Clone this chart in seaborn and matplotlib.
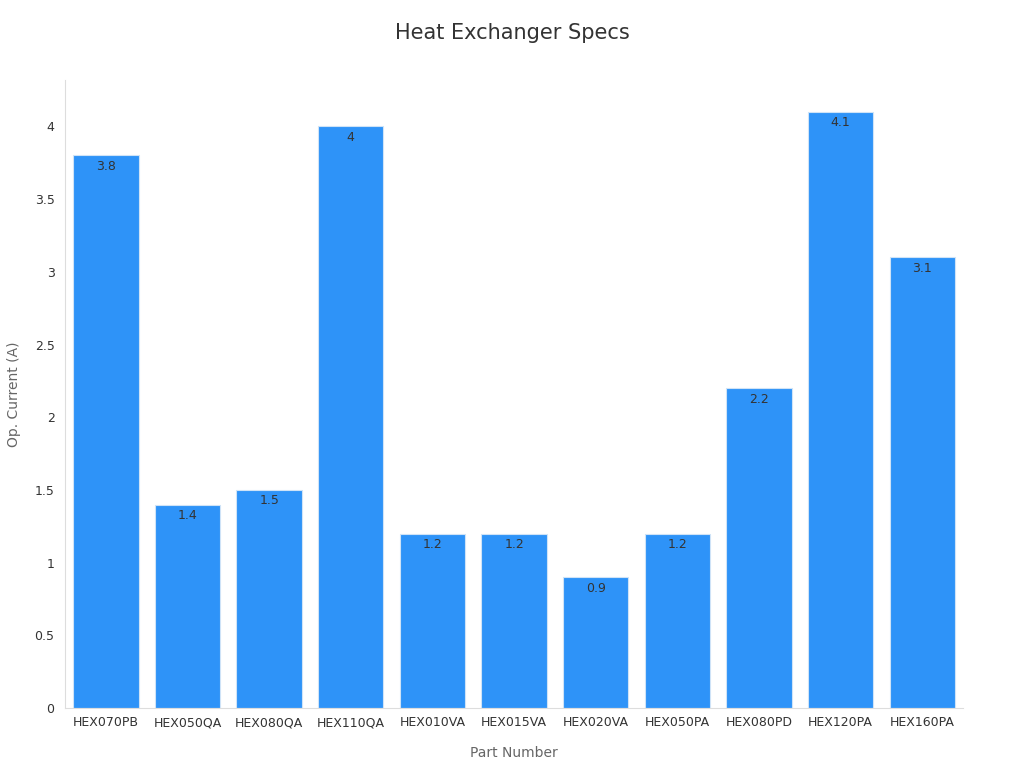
import matplotlib
matplotlib.use("Agg")
import matplotlib.pyplot as plt
from matplotlib.ticker import FuncFormatter, MultipleLocator
import seaborn as sns
import pandas as pd

parts = ["HEX070PB", "HEX050QA", "HEX080QA", "HEX110QA", "HEX010VA", "HEX015VA",
         "HEX020VA", "HEX050PA", "HEX080PD", "HEX120PA", "HEX160PA"]
current = [3.8, 1.4, 1.5, 4.0, 1.2, 1.2, 0.9, 1.2, 2.2, 4.1, 3.1]

sns.set_style("white")
plt.rcParams['font.family'] = ['DejaVu Sans']

df = pd.DataFrame({"part": parts, "current": current})

fig = plt.figure(figsize=(10.24, 7.68), dpi=100)
ax = fig.add_axes([0.0635, 0.078, 0.877, 0.818])
sns.barplot(data=df, x="part", y="current", color="#2E93F8", saturation=1,
            width=0.8, edgecolor="#cfe3f7", linewidth=0.8, ax=ax)

for p, v in zip(ax.patches, current):
    ax.text(p.get_x() + p.get_width() / 2, p.get_height() - 0.03, f"{v:g}",
            ha="center", va="top", fontsize=9, color="#333333")

ax.set_ylim(0, 4.32)
ax.set_xlim(-0.5, len(parts) - 0.5)
ax.yaxis.set_major_locator(MultipleLocator(0.5))
ax.yaxis.set_major_formatter(FuncFormatter(lambda v, _: f"{v:g}"))
ax.tick_params(axis="both", labelsize=9, colors="#333333", length=4, color="#cccccc")
ax.tick_params(axis="x", length=0, pad=6)
for s in ["top", "right"]:
    ax.spines[s].set_visible(False)
for s in ["left", "bottom"]:
    ax.spines[s].set_color("#dddddd")
ax.set_xlabel("Part Number", fontsize=10, color="#666666", labelpad=12)
ax.set_ylabel("Op. Current (A)", fontsize=10, color="#666666", labelpad=10)
fig.suptitle("Heat Exchanger Specs", fontsize=15, color="#333333", y=0.97)

fig.savefig("out.png", dpi=100)
